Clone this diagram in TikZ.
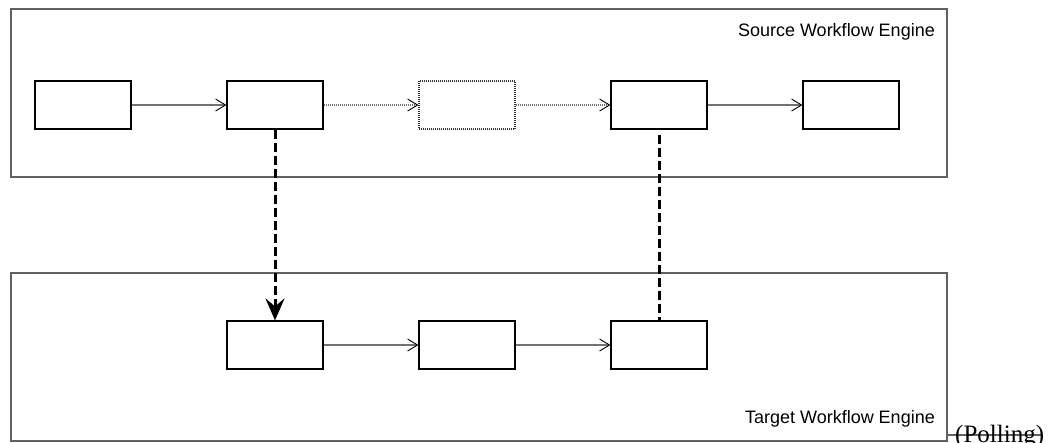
\documentclass[tikz,border=0pt]{standalone}
\usepackage{fontspec}
\setmainfont{Liberation Serif}
\newfontfamily\arialf{Liberation Sans}
\usetikzlibrary{arrows.meta}
\begin{document}
\begin{tikzpicture}[x=1pt,y=-1pt,
  container/.style={draw=black!62,line width=1.5pt,inner sep=0pt,minimum width=936pt,minimum height=168pt},
  stepbox/.style={draw=black,line width=1.1pt,minimum width=96pt,minimum height=48pt,inner sep=0pt,fill=white},
  ghostbox/.style={stepbox,draw=black!80,dash pattern=on 1pt off 1pt},
  flow/.style={draw=black!55,line width=1.5pt,-{Straight Barb[length=10pt,width=12pt,line width=0.9pt,color=black]}},
  flowdot/.style={flow,dash pattern=on 1pt off 1pt},
  sync/.style={draw=black,line width=3pt,dash pattern=on 9pt off 4pt},
  syncarrow/.style={sync,-{Stealth[length=22pt,width=19pt,inset=8pt]}},
  enginelabel/.style={font=\arialf\fontsize{18}{20}\selectfont,inner sep=0pt},
]
\useasboundingbox (0,0) rectangle (1051,443);
% containers
\node[container] (src) at (479,93) {};
\node[container] (tgt) at (479,357) {};
\node[enginelabel,anchor=base east] (srclabel) at (935,37) {Source Workflow Engine};
\node[enginelabel,anchor=base east] (tgtlabel) at (935,423) {Target Workflow Engine};
% source steps
\node[stepbox] (a1) at (83,105) {};
\node[stepbox] (a2) at (275,105) {};
\node[ghostbox] (a3) at (467,105) {};
\node[stepbox] (a4) at (659,105) {};
\node[stepbox] (a5) at (851,105) {};
% target steps
\node[stepbox] (b1) at (275,345) {};
\node[stepbox] (b2) at (467,345) {};
\node[stepbox] (b3) at (659,345) {};
% flows
\draw[flow] (a1) -- (a2);
\draw[flowdot] (a2) -- (a3);
\draw[flowdot] (a3) -- (a4);
\draw[flow] (a4) -- (a5);
\draw[flow] (b1) -- (b2);
\draw[flow] (b2) -- (b3);
% synchronisation
\draw[syncarrow] (a2.south) -- (b1.north);
\draw[sync,shorten <=5pt] (a4.south) -- (b3.north);
% polling
\coordinate (p0) at (947,435);
\coordinate (p1) at (1042,435);
\draw[draw=black!62,line width=1.5pt] (p0) -- (p1);
\node[anchor=base west,inner sep=0pt,font=\fontsize{25}{27}\selectfont] (poll) at (955,442) {(Polling)};
\end{tikzpicture}
\end{document}
